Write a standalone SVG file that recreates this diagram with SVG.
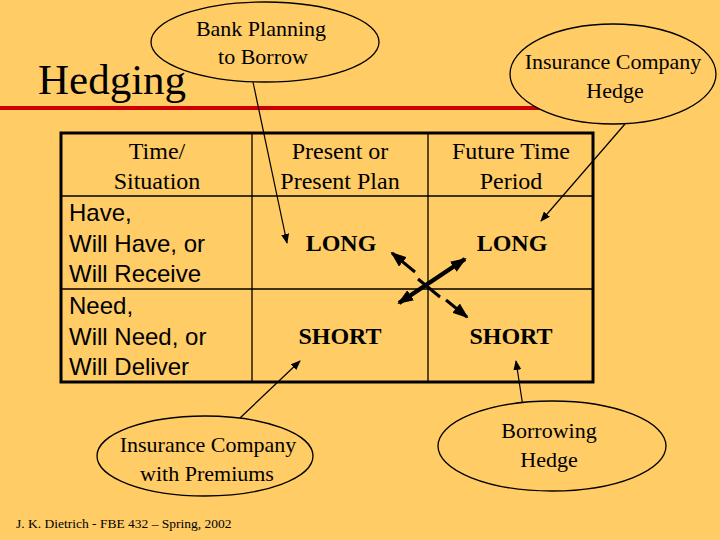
<svg xmlns="http://www.w3.org/2000/svg" width="720" height="540" viewBox="0 0 720 540">
<style>
.t{font-family:"Liberation Serif",serif;fill:#000}
.s{font-family:"Liberation Sans",sans-serif;fill:#000;font-size:24px}
.e{fill:#FFCC66;stroke:#000;stroke-width:1.3}
.c{stroke:#000;stroke-width:1.2;fill:none;marker-end:url(#a)}
.g{stroke:#000;stroke-width:1.3}
</style>
<defs>
<marker id="a" markerWidth="10" markerHeight="8" refX="9" refY="4" orient="auto" markerUnits="userSpaceOnUse"><path d="M0,0L10,4L0,8z"/></marker>
<marker id="b" markerWidth="16" markerHeight="12" refX="14" refY="6" orient="auto-start-reverse" markerUnits="userSpaceOnUse"><path d="M0,0L16,6L0,12z"/></marker>
</defs>
<rect width="720" height="540" fill="#FFCC66"/>
<line x1="0" y1="108" x2="560" y2="108" stroke="#CC0000" stroke-width="4"/>
<text class="t" x="38" y="94" font-size="43">Hedging</text>
<g id="table">
<rect x="61" y="133" width="532" height="249" fill="none" stroke="#000" stroke-width="3"/>
<line class="g" x1="61" y1="196" x2="593" y2="196" stroke-width="3"/>
<line class="g" x1="61" y1="289" x2="593" y2="289"/>
<line class="g" x1="252" y1="133" x2="252" y2="382"/>
<line class="g" x1="428" y1="133" x2="428" y2="382"/>
<g class="t" font-size="24" text-anchor="middle">
<text x="157" y="159">Time/</text><text x="157" y="189">Situation</text>
<text x="340" y="159">Present or</text><text x="340" y="189">Present Plan</text>
<text x="511" y="159">Future Time</text><text x="511" y="189">Period</text>
<text x="341" y="251" font-weight="bold">LONG</text>
<text x="512" y="251" font-weight="bold">LONG</text>
<text x="340" y="344" font-weight="bold">SHORT</text>
<text x="511" y="344" font-weight="bold">SHORT</text>
</g>
<text class="s" x="69" y="221">Have,</text>
<text class="s" x="69" y="252">Will Have, or</text>
<text class="s" x="69" y="282">Will Receive</text>
<text class="s" x="69" y="314">Need,</text>
<text class="s" x="69" y="345">Will Need, or</text>
<text class="s" x="69" y="375">Will Deliver</text>
</g>
<g id="connectors">
<line class="c" x1="253" y1="82" x2="287" y2="243"/>
<line class="c" x1="625" y1="124" x2="541" y2="221"/>
<line class="c" x1="240" y1="418" x2="300" y2="361"/>
<line class="c" x1="525" y1="420" x2="516" y2="361"/>
<line stroke="#000" stroke-width="4.5" x1="399" y1="303" x2="465" y2="259" marker-start="url(#b)" marker-end="url(#b)"/>
<line stroke="#000" stroke-width="3" x1="415" y1="272" x2="392" y2="253" marker-end="url(#b)"/>
<line stroke="#000" stroke-width="3" x1="446" y1="300" x2="467" y2="317" marker-end="url(#b)"/>
<line stroke="#000" stroke-width="3" x1="418" y1="279" x2="440" y2="297"/>
</g>
<g id="bank"><ellipse class="e" cx="265" cy="42" rx="114" ry="40"/>
<text class="t" font-size="22" text-anchor="middle" x="261" y="36">Bank Planning</text>
<text class="t" font-size="22" text-anchor="middle" x="263" y="64">to Borrow</text></g>
<g id="insHedge"><ellipse class="e" cx="613" cy="74" rx="103" ry="50"/>
<text class="t" font-size="22" text-anchor="middle" x="613" y="69">Insurance Company</text>
<text class="t" font-size="22" text-anchor="middle" x="615" y="98">Hedge</text></g>
<g id="insPrem"><ellipse class="e" cx="205" cy="456" rx="108" ry="40"/>
<text class="t" font-size="22" text-anchor="middle" x="208" y="452">Insurance Company</text>
<text class="t" font-size="22" text-anchor="middle" x="207" y="481">with Premiums</text></g>
<g id="borrow"><ellipse class="e" cx="552" cy="446" rx="114" ry="45"/>
<text class="t" font-size="22" text-anchor="middle" x="549" y="438">Borrowing</text>
<text class="t" font-size="22" text-anchor="middle" x="549" y="467">Hedge</text></g>
<text class="t" font-size="13.5" x="16" y="528">J. K. Dietrich - FBE 432 – Spring, 2002</text>
</svg>
